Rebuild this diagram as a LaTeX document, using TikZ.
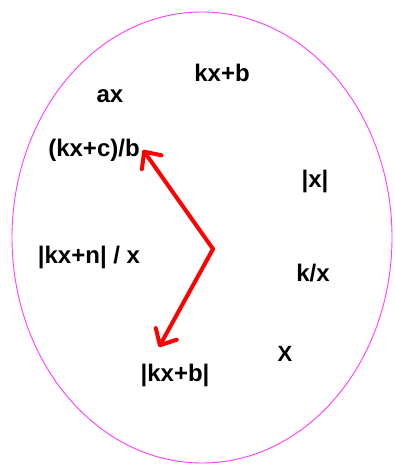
\documentclass[tikz,border=0pt]{standalone}
\usepackage{fontspec}
\setmainfont{Liberation Sans}
\usetikzlibrary{arrows.meta}
\definecolor{ellcol}{RGB}{255,60,255}
\begin{document}
\begin{tikzpicture}[x=1pt,y=-1pt,
  lbl/.style={font=\bfseries\fontsize{24}{26}\selectfont, inner sep=0pt, anchor=center},
  lblx/.style={font=\bfseries\fontsize{22}{26}\selectfont, inner sep=0pt, anchor=center},
  redarrow/.style={draw=red, line width=4pt, line cap=round, line join=round,
    -{Straight Barb[length=13pt,width=24pt,line cap=round,line join=round]}}]
\useasboundingbox (0,0) rectangle (394,465);
\fill[white] (0,0) rectangle (394,465);
\draw[ellcol, line width=0.9pt] (202,237.5) ellipse [x radius=190, y radius=225.5];
\node[lbl] (kxb) at (222,73) {kx+b};
\node[lbl] (ax) at (110,96) {ax};
\node[lbl] (kxcb) at (94,150) {(kx+c)/b};
\node[lbl] (kxnx) at (89,257) {|kx+n| / x};
\node[lbl] (abskxb) at (175,375) {|kx+b|};
\node[lblx] (X) at (285,354) {X};
\node[lbl] (absx) at (315,181) {|x|};
\node[lbl] (kx) at (313,273) {k/x};
\coordinate (v) at (213,249);
\coordinate (t1) at (143,150);
\coordinate (t2) at (159,347);
\draw[redarrow] (v) -- (t1);
\draw[redarrow] (v) -- (t2);
\end{tikzpicture}
\end{document}
